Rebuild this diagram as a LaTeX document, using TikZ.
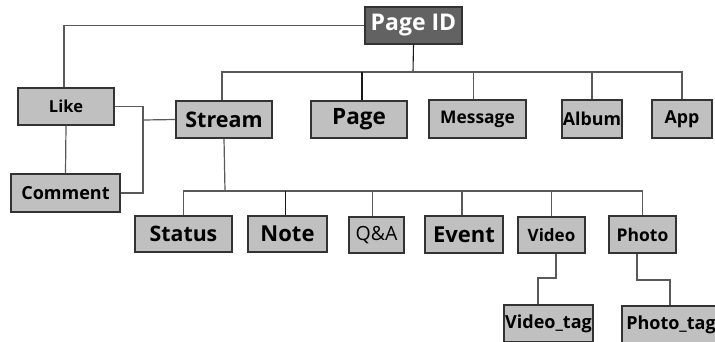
\documentclass[tikz,border=0pt]{standalone}
\usepackage{fontspec}
\setmainfont{Open Sans}
\newcommand{\fsz}[1]{\fontsize{#1}{#1}\selectfont}
\begin{document}
\begin{tikzpicture}[x=1pt,y=-1pt,
  box/.style={draw=black!80, line width=1.2pt, fill=boxgray, inner sep=0pt, font=\bfseries},
  con/.style={draw=black!65, line width=1.2pt},
  conk/.style={draw=black!90, line width=1.1pt}]
\definecolor{boxgray}{HTML}{C0C0C0}
\definecolor{darkbox}{HTML}{626262}
\path[use as bounding box] (0,0) rectangle (715,341);
% nodes
\node[box, fill=darkbox, text=white, minimum width=97, minimum height=37, font=\bfseries\fsz{23}] (pid) at (413.5,25.5) {Page ID};
\node[box, minimum width=96, minimum height=37, font=\bfseries\fsz{16.5}] (like) at (66,106.5) {Like};
\node[box, minimum width=109, minimum height=38, font=\bfseries\fsz{18}] (comment) at (65.5,193) {Comment};
\node[box, minimum width=96, minimum height=37, font=\bfseries\fsz{21.5}] (stream) at (224,119.5) {Stream};
\node[box, minimum width=96, minimum height=37, font=\bfseries\fsz{22.5}] (page) at (359,119.5) {Page};
\node[box, minimum width=97, minimum height=38, font=\bfseries\fsz{17.4}] (message) at (477.5,119) {Message};
\node[box, minimum width=60, minimum height=38, font=\bfseries\fsz{17.8}] (album) at (592,119) {Album};
\node[box, minimum width=60, minimum height=38, font=\bfseries\fsz{17.8}] (app) at (682,119) {App};
\node[box, minimum width=97, minimum height=36, font=\bfseries\fsz{21.3}] (status) at (183.5,234) {Status};
\node[box, minimum width=79, minimum height=36, font=\bfseries\fsz{22}] (note) at (287.5,234) {Note};
\node[box, minimum width=55, minimum height=36, font=\fsz{19.5}] (qa) at (376.5,235) {Q\&A};
\node[box, minimum width=78, minimum height=37, font=\bfseries\fsz{22}] (event) at (464,234.5) {Event};
\node[box, minimum width=67, minimum height=36, font=\bfseries\fsz{17}] (video) at (551.5,235) {Video};
\node[box, minimum width=67, minimum height=37, font=\bfseries\fsz{17.5}] (photo) at (642.5,234.5) {Photo};
\node[box, minimum width=89, minimum height=37, font=\bfseries\fsz{18}] (vtag) at (548.5,323.5) {Video\_tag};
\node[box, minimum width=98, minimum height=37, font=\bfseries\fsz{18}] (ptag) at (671,324.5) {Photo\_tag};
% junctions
\coordinate (bus1) at (413,72);
\coordinate (bus2) at (225,191);
\coordinate (lj) at (143,120);
\coordinate (vk1) at (556,278);
\coordinate (vk2) at (538,278);
\coordinate (pk1) at (637,280);
\coordinate (pk2) at (670,280);
% connectors
\draw[con] (pid.west) -| ([xshift=-2]like.north);
\draw[conk] (pid.south) -- (bus1);
\draw[con] ([xshift=-2]stream.north) |- (bus1) -| (app.north);
\draw[conk] ([xshift=3]page.north) -- ([xshift=3]page.north |- bus1);
\draw[con] ([xshift=-4]message.north) -- ([xshift=-4]message.north |- bus1);
\draw[con] (album.north) -- (album.north |- bus1);
\draw[con] (like.south) -- (comment.north);
\draw[con] (like.east) -| (lj);
\draw[con] (comment.east) -| (lj);
\draw[con] (lj) -- (stream.west);
\draw[con] (stream.south) -- (bus2);
\draw[con] (status.north) |- (bus2) -| (photo.north);
\draw[conk] ([xshift=-2]note.north) -- ([xshift=-2]note.north |- bus2);
\draw[con] ([xshift=-4]qa.north) -- ([xshift=-4]qa.north |- bus2);
\draw[con] ([xshift=-2]event.north) -- ([xshift=-2]event.north |- bus2);
\draw[con] (video.north) -- (video.north |- bus2);
\draw[con] (vk1 |- video.south) -- (vk1) -- (vk2) -- (vk2 |- vtag.north);
\draw[con] (pk1 |- photo.south) -- (pk1) -- (pk2) -- (pk2 |- ptag.north);
\end{tikzpicture}
\end{document}
